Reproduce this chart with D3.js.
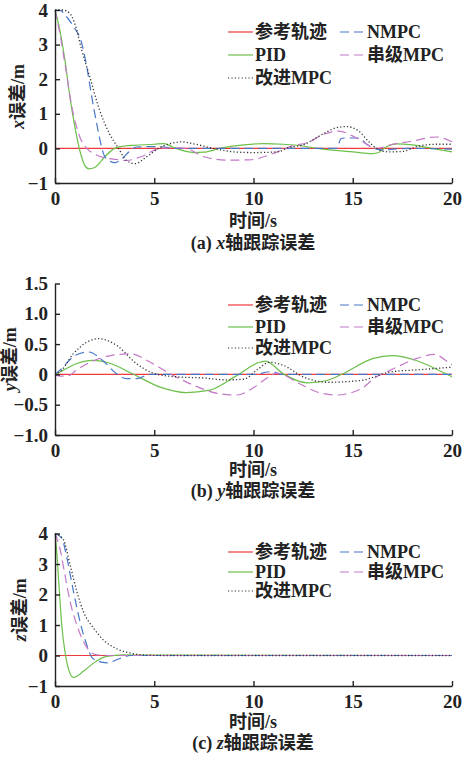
<!doctype html>
<html>
<head>
<meta charset="utf-8">
<script src="https://d3js.org/d3.v7.min.js"></script>
<style>
  body { margin: 0; background: #fff; }
  text { font-family: "Liberation Serif", "Noto Sans CJK SC", serif; font-weight: bold; fill: #222; }
</style>
</head>
<body>
<svg width="476" height="761"></svg>
<script>
// series names, legend labels
var seriesNames = ["参考轨迹", "NMPC", "PID", "串级MPC", "改进MPC"];

// (a) x error, [time, value]
var xRef = [[0, 0], [20, 0]];
var xPID = [[0,4],[0.25,3.4],[0.5,2.55],[0.75,1.49],[1.0,0.62],[1.25,-0.06],[1.5,-0.49],[1.7,-0.59],[2.0,-0.55],[2.5,-0.25],[3.0,0.0],[3.5,0.07],[4.0,0.09],[5.0,0.12],[5.5,0.14],[6.0,0.02],[7.0,-0.12],[7.5,-0.11],[8.3,0.0],[9.5,0.1],[10.5,0.14],[11.5,0.12],[12.5,0.07],[13.2,0.0],[14.0,-0.05],[15.0,-0.1],[16.0,-0.15],[16.3,-0.12],[16.7,0.05],[17.2,0.13],[18.0,0.1],[19.0,0.0],[20,-0.1]];
var xNMPC = [[0,4],[0.3,3.98],[0.5,3.86],[0.9,3.55],[1.35,3.03],[1.6,2.36],[1.77,1.78],[1.94,1.2],[2.1,0.72],[2.27,0.23],[2.44,-0.15],[2.7,-0.35],[3.03,-0.41],[3.37,-0.3],[3.8,-0.06],[4.1,0.04],[4.8,0.05],[5.5,0.04],[6.0,0.0],[14.2,0.0],[14.4,0.28],[14.6,0.3],[15.3,0.3],[15.7,0.12],[16.1,0.0],[16.5,-0.05],[17.0,-0.02],[18.0,0.0],[20,-0.02]];
var xCascade = [[0,4],[0.25,3.3],[0.5,2.45],[0.85,1.2],[1.25,0.33],[1.6,0.0],[1.95,-0.15],[2.5,-0.27],[3.1,-0.32],[3.6,-0.35],[4.3,-0.25],[5.3,0.0],[6.0,0.02],[6.6,0.0],[7.5,-0.24],[8.7,-0.34],[9.8,-0.33],[11.2,-0.1],[12.0,0.08],[12.7,0.16],[13.5,0.4],[14.3,0.5],[15.2,0.3],[16.2,0.0],[17.0,0.12],[17.9,0.2],[19.2,0.33],[20,0.19]];
var xImproved = [[0,4],[0.4,4.0],[0.75,3.9],[1.0,3.6],[1.35,2.84],[1.75,2.07],[2.25,1.1],[2.75,0.42],[3.2,0.0],[3.6,-0.35],[4.05,-0.44],[4.6,-0.25],[5.3,0.03],[5.9,0.15],[6.4,0.19],[7.0,0.13],[8.0,0.0],[9.0,-0.1],[10,-0.12],[11.2,-0.1],[11.8,0.03],[12.5,0.1],[13.0,0.25],[13.6,0.45],[14.2,0.6],[14.7,0.63],[15.3,0.5],[15.8,0.2],[16.2,0.0],[16.8,-0.1],[17.5,-0.09],[18.2,0.05],[19.2,0.12],[20,0.12]];

// (b) y error
var yRef = [[0, 0], [20, 0]];
var yPID = [[0,0],[0.25,0.04],[1.1,0.18],[1.9,0.23],[2.8,0.18],[3.9,0.01],[5.3,-0.21],[6.6,-0.3],[7.8,-0.26],[9.15,-0.02],[10.3,0.2],[10.6,0.22],[11.5,0.01],[12.7,-0.14],[13.7,-0.1],[14.5,0.01],[16.0,0.26],[17.0,0.31],[18.2,0.23],[19.2,0.09],[20,-0.04]];
var yNMPC = [[0,0],[0.25,0.07],[1.0,0.31],[1.7,0.37],[2.4,0.23],[3.1,0.01],[3.6,-0.07],[4.1,-0.07],[4.8,0.0],[10.2,0.0],[10.7,0.04],[11.0,0.04],[11.4,0.0],[20,0.0]];
var yCascade = [[0,0],[0.25,-0.03],[0.7,-0.02],[1.0,0.05],[1.76,0.2],[2.8,0.31],[3.8,0.34],[4.8,0.2],[5.8,0.01],[7.0,-0.18],[8.3,-0.32],[9.15,-0.34],[10.0,-0.22],[10.5,-0.1],[11.2,0.02],[12.3,-0.15],[13.2,-0.29],[14.2,-0.34],[15.4,-0.24],[16.2,-0.04],[16.9,0.07],[18.2,0.26],[19.1,0.33],[19.9,0.18],[20,0.16]];
var yImproved = [[0,0],[0.25,0.04],[0.92,0.34],[1.6,0.53],[2.2,0.59],[3.1,0.48],[4.1,0.18],[4.95,0.02],[6.1,-0.04],[7.5,-0.06],[8.6,-0.09],[9.5,-0.08],[10.2,0.08],[10.8,0.2],[11.5,0.15],[12.5,-0.04],[13.7,-0.13],[15.4,-0.1],[16.9,0.04],[18.5,0.08],[20,0.12]];

// (c) z error
var zRef = [[0, 0], [20, 0]];
var zPID = [[0,4],[0.1,3.3],[0.2,2.3],[0.34,1.0],[0.5,0.13],[0.67,-0.42],[0.93,-0.72],[1.43,-0.52],[1.94,-0.25],[2.6,-0.03],[3.45,0.02],[5,0.01],[20,0.0]];
var zNMPC = [[0,4],[0.34,3.85],[0.6,3.2],[0.93,2.1],[1.26,1.11],[1.6,0.35],[1.85,-0.05],[2.2,-0.2],[2.6,-0.24],[3.3,-0.09],[3.8,0.0],[20,0.0]];
var zCascade = [[0,4],[0.25,3.5],[0.5,2.64],[0.76,1.77],[1.1,1.0],[1.43,0.46],[1.77,0.13],[2.1,0.02],[3,0.0],[20,0.0]];
var zImproved = [[0,4],[0.42,3.8],[0.76,2.97],[1.1,2.1],[1.43,1.44],[1.94,0.9],[2.44,0.51],[3.1,0.22],[3.8,0.08],[4.46,0.02],[5.5,0.0],[20,0.0]];

// tick labels
var xTicks = [0, 5, 10, 15, 20];
var yTicksXZ = [-1, 0, 1, 2, 3, 4];
var yTicksY = [-1.0, -0.5, 0, 0.5, 1.0, 1.5];

var colors = { ref: "#f0393c", nmpc: "#4677c8", pid: "#6cc04a", cas: "#c479c8", imp: "#333" };
var dashes = { ref: null, nmpc: "9,5", pid: null, cas: "9,5", imp: "1.2,2.2" };

var svg = d3.select("svg");
var x0 = 55, x1 = 452;

var panels = [
  { axis: "x", top: 10, bottom: 183, domain: [-1, 4], ticks: yTicksXZ, labelX: 18,
    data: { ref: xRef, pid: xPID, nmpc: xNMPC, cas: xCascade, imp: xImproved },
    legendRows: [32, 55, 78], tickY: 200, xlabY: 221, capY: 243, cap: "(a) " },
  { axis: "y", top: 283.5, bottom: 435, domain: [-1, 1.5], ticks: yTicksY, labelX: 9.5,
    data: { ref: yRef, pid: yPID, nmpc: yNMPC, cas: yCascade, imp: yImproved },
    legendRows: [305, 327, 348], tickY: 452, xlabY: 470, capY: 491, cap: "(b) " },
  { axis: "z", top: 533.5, bottom: 686, domain: [-1, 4], ticks: yTicksXZ, labelX: 20,
    data: { ref: zRef, pid: zPID, nmpc: zNMPC, cas: zCascade, imp: zImproved },
    legendRows: [552, 572, 591], tickY: 702, xlabY: 722, capY: 743, cap: "(c) " }
];

var xScale = d3.scaleLinear().domain([0, 20]).range([x0, x1]);

panels.forEach(function(p) {
  var yScale = d3.scaleLinear().domain(p.domain).range([p.bottom, p.top]);
  var g = svg.append("g");

  var line = d3.line()
    .x(function(d) { return xScale(d[0]); })
    .y(function(d) { return yScale(d[1]); })
    .curve(d3.curveMonotoneX);

  ["ref", "pid", "nmpc", "cas", "imp"].forEach(function(k) {
    g.append("path")
      .attr("d", line(p.data[k]))
      .attr("fill", "none")
      .attr("stroke", colors[k])
      .attr("stroke-width", k == "imp" ? 1.3 : 1.2)
      .attr("stroke-dasharray", dashes[k]);
  });

  // axes, ticks pointing inside
  var fmt = p.axis == "y" ? function(d) { return d === 0 ? "0" : d3.format(".1f")(d); } : d3.format("d");
  var ya = g.append("g")
    .attr("transform", "translate(" + x0 + ",0)")
    .call(d3.axisLeft(yScale).tickValues(p.ticks).tickFormat(fmt).tickSizeInner(-5).tickSizeOuter(0).tickPadding(7));
  var xa = g.append("g")
    .attr("transform", "translate(0," + p.bottom + ")")
    .call(d3.axisBottom(xScale).tickValues(xTicks).tickSizeInner(-5).tickSizeOuter(0).tickPadding(9));
  [ya, xa].forEach(function(a) {
    a.select(".domain").attr("stroke", "#222").attr("stroke-width", 1.4);
    a.selectAll(".tick line").attr("stroke", "#222").attr("stroke-width", 1.4);
    a.selectAll("text").style("font-size", "19px").style("font-family", "'Liberation Serif', serif").style("font-weight", "bold").attr("fill", "#222");
  });

  // y label
  var yl = g.append("text")
    .attr("transform", "translate(" + p.labelX + "," + ((p.top + p.bottom) / 2) + ") rotate(-90)")
    .attr("text-anchor", "middle")
    .attr("dy", "0.35em")
    .style("font-size", "18px");
  yl.append("tspan").style("font-style", "italic").text(p.axis);
  yl.append("tspan").text("误差/m");

  // x label and caption
  g.append("text")
    .attr("x", 253).attr("y", p.xlabY).attr("dy", "0.35em")
    .attr("text-anchor", "middle").style("font-size", "18px")
    .text("时间/s");
  var cap = g.append("text")
    .attr("x", 253).attr("y", p.capY).attr("dy", "0.35em")
    .attr("text-anchor", "middle").style("font-size", "18px");
  cap.append("tspan").text(p.cap);
  cap.append("tspan").style("font-style", "italic").text(p.axis);
  cap.append("tspan").text("轴跟踪误差");

  // legend
  var items = [
    { k: "ref", name: seriesNames[0], lx: 228, row: 0 },
    { k: "nmpc", name: seriesNames[1], lx: 340, row: 0 },
    { k: "pid", name: seriesNames[2], lx: 228, row: 1 },
    { k: "cas", name: seriesNames[3], lx: 340, row: 1 },
    { k: "imp", name: seriesNames[4], lx: 228, row: 2 }
  ];
  items.forEach(function(it) {
    var yy = p.legendRows[it.row];
    g.append("line")
      .attr("x1", it.lx).attr("x2", it.lx + 25)
      .attr("y1", yy).attr("y2", yy)
      .attr("stroke", colors[it.k]).attr("stroke-width", 1.2)
      .attr("stroke-dasharray", dashes[it.k]);
    g.append("text")
      .attr("x", it.lx + 27).attr("y", yy).attr("dy", "0.35em")
      .style("font-size", "18px")
      .text(it.name);
  });
});
</script>
</body>
</html>
